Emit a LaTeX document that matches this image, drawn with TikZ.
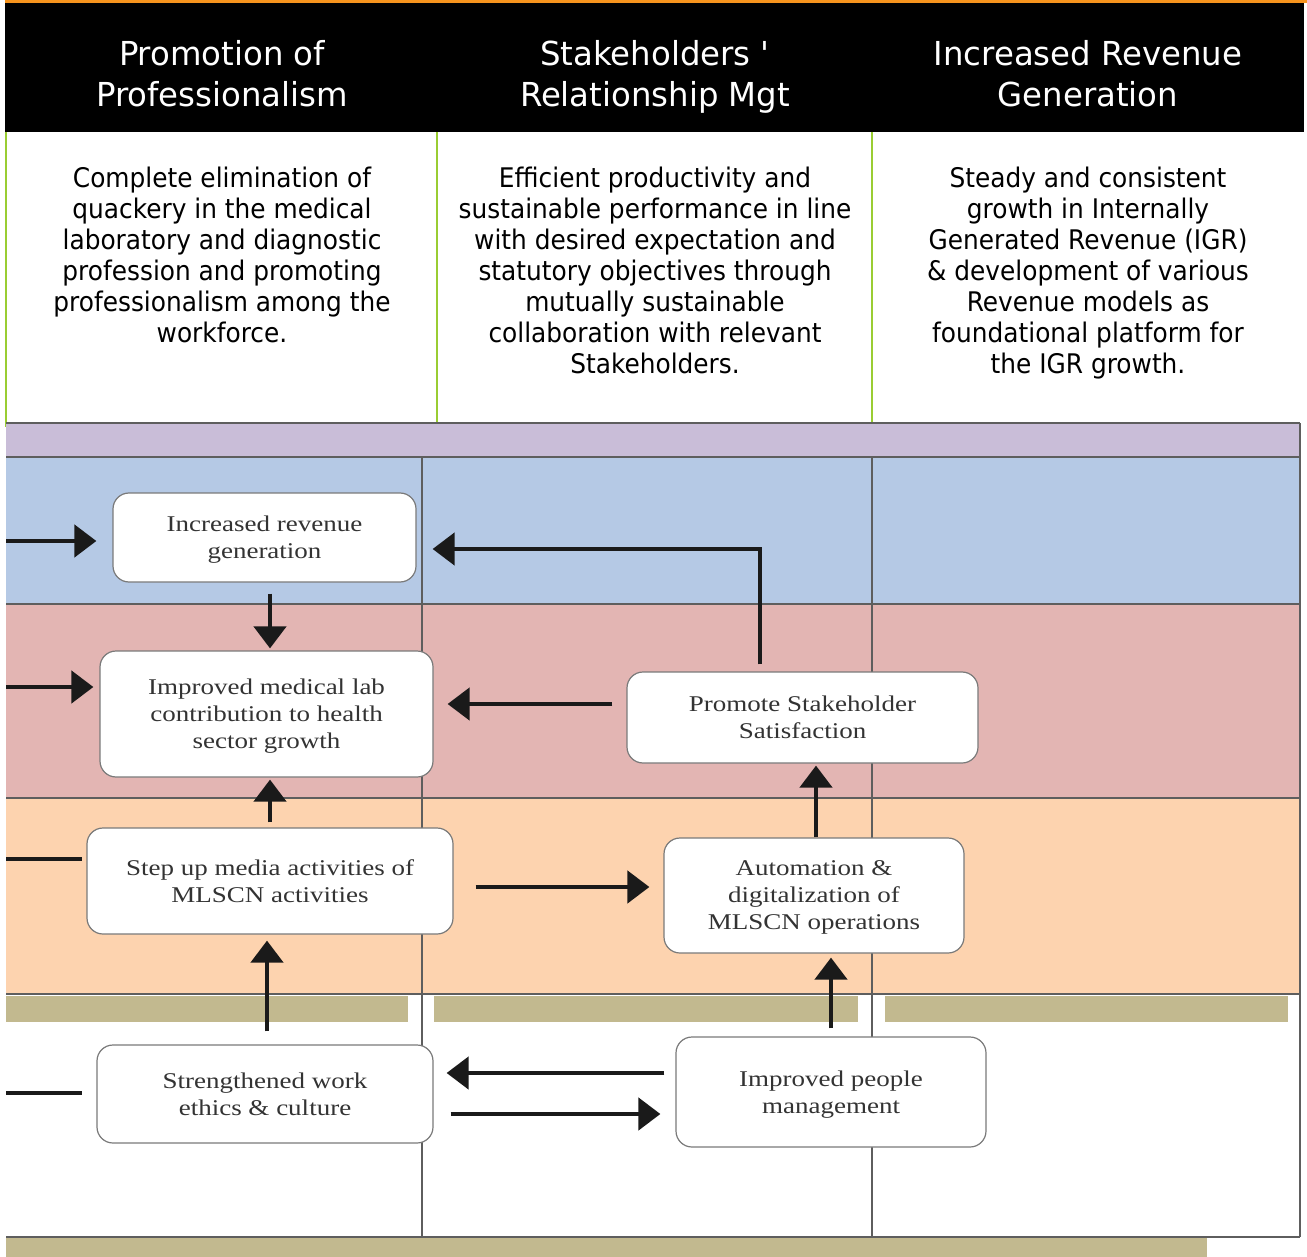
\documentclass[tikz,border=0pt]{standalone}
\usepackage{fontspec}
\setmainfont{Liberation Serif}
\newfontfamily\hdfont[FakeStretch=0.92]{DejaVu Sans}
\newfontfamily\hhfont[FakeStretch=0.98]{DejaVu Sans}
\newfontfamily\bxfont[FakeStretch=1.2]{Liberation Serif}
\usetikzlibrary{arrows.meta}
\definecolor{orangeline}{HTML}{F7941D}
\definecolor{lavband}{HTML}{C9BDD8}
\definecolor{blueband}{HTML}{B5C9E5}
\definecolor{pinkband}{HTML}{E3B5B3}
\definecolor{peachband}{HTML}{FDD3AF}
\definecolor{oliveband}{HTML}{C2B98F}
\definecolor{gridline}{HTML}{5E5E5E}
\definecolor{greenline}{HTML}{9ACD32}
\definecolor{boxline}{HTML}{7A7A7A}
\definecolor{arrowcol}{HTML}{1A1A1A}
\definecolor{boxtext}{HTML}{333333}
\tikzset{
  headtext/.style={text=white, align=center, font=\hhfont\fontsize{33}{41}\selectfont, inner sep=0pt},
  bodytext/.style={text=black, align=center, font=\hdfont\fontsize{27}{31}\selectfont, inner sep=0pt},
  goalbox/.style={draw=boxline, line width=1.2pt, fill=white, rounded corners=16pt,
    align=center, text=boxtext, font=\bxfont\fontsize{22.5}{27}\selectfont, inner sep=0pt,
    text depth=-2pt},
  arr/.style={draw=arrowcol, line width=4.5pt, -{Triangle[length=22pt,width=32pt]}},
  stub/.style={draw=arrowcol, line width=4.5pt},
  grid/.style={draw=gridline, line width=1.5pt}
}
\begin{document}
\begin{tikzpicture}[x=1pt,y=-1pt]
\useasboundingbox (0,0) rectangle (1307,1257);
\fill[white] (0,0) rectangle (1307,1257);
% header
\fill[orangeline] (5,0) rectangle (1307,3);
\fill[black] (5,3) rectangle (1304,132);
\foreach \gx in {6,437,872} \draw[greenline, line width=2pt] (\gx,132) -- (\gx,427);
\node[headtext] (h1) at (222,74) {Promotion of\\Professionalism};
\node[headtext] (h2) at (655,76.5) {Stakeholders '\\Relationship Mgt};
\node[headtext] (h3) at (1088,74) {Increased Revenue\\Generation};
\node[bodytext] (t1) at (222,254.5) {Complete elimination of\\quackery in the medical\\laboratory and diagnostic\\profession and promoting\\professionalism among the\\workforce.};
\node[bodytext] (t2) at (655,270.5) {Efficient productivity and\\sustainable performance in line\\with desired expectation and\\statutory objectives through\\mutually sustainable\\collaboration with relevant\\Stakeholders.};
\node[bodytext] (t3) at (1088,273.5) {Steady and consistent\\growth in Internally\\Generated Revenue (IGR)\\\& development of various\\Revenue models as\\foundational platform for\\the IGR growth.};
% bands
\fill[lavband] (6,423) rectangle (1300,457);
\fill[blueband] (6,457) rectangle (1300,604);
\fill[pinkband] (6,604) rectangle (1300,798);
\fill[peachband] (6,798) rectangle (1300,994);
\fill[oliveband] (6,996) rectangle (408,1022);
\fill[oliveband] (434,996) rectangle (858,1022);
\fill[oliveband] (885,996) rectangle (1288,1022);
\fill[oliveband] (6,1238) rectangle (1207,1257);
\foreach \gy in {423,457,604,798,994,1237} \draw[grid] (6,\gy) -- (1300,\gy);
\draw[grid] (1300,423) -- (1300,1237);
\draw[grid] (422,457) -- (422,1237);
\draw[grid] (872,457) -- (872,1237);
% boxes
\node[goalbox, minimum width=303pt, minimum height=89pt] (b1) at (264.5,537.5) {Increased revenue\\generation};
\node[goalbox, minimum width=333pt, minimum height=126pt] (b2) at (266.5,714) {Improved medical lab\\contribution to health\\sector growth};
\node[goalbox, minimum width=366pt, minimum height=106pt] (b3) at (270,881) {Step up media activities of\\MLSCN activities};
\node[goalbox, minimum width=351pt, minimum height=91pt] (b4) at (802.5,717.5) {Promote Stakeholder\\Satisfaction};
\node[goalbox, minimum width=300pt, minimum height=115pt] (b5) at (814,895.5) {Automation \&\\digitalization of\\MLSCN operations};
\node[goalbox, minimum width=336pt, minimum height=98pt] (b6) at (265,1094) {Strengthened work\\ethics \& culture};
\node[goalbox, minimum width=310pt, minimum height=110pt] (b7) at (831,1092) {Improved people\\management};
% free ends
\coordinate (in1) at (6,541);
\coordinate (in2) at (6,687);
\coordinate (s3) at (6,859);
\coordinate (s6) at (6,1093);
\draw[arr, shorten >=16pt] (in1) -- (in1 -| b1.west);
\draw[arr, shorten >=6pt] (in2) -- (in2 -| b2.west);
\draw[stub, shorten >=4pt] (s3) -- (s3 -| b3.west);
\draw[stub, shorten >=14pt] (s6) -- (s6 -| b6.west);
% vertical links
\draw[arr, shorten <=11pt, shorten >=2pt] ([xshift=5.5pt]b1.south) -- ([xshift=3.5pt]b2.north);
\draw[arr, shorten <=5pt, shorten >=2pt] (b3.north) -- ([xshift=3.5pt]b2.south);
\draw[arr, shorten <=13pt, shorten >=6pt] ([xshift=2pt]b6.north) -- ([xshift=-3pt]b3.south);
\draw[arr, shorten >=2pt] ([xshift=2pt]b5.north) -- ([xshift=13.5pt]b4.south);
\draw[arr, shorten <=8pt, shorten >=4pt] (b7.north) -- ([xshift=17pt]b5.south);
% horizontal links
\coordinate (h35) at ([yshift=-6pt]b3.east);
\draw[arr, shorten <=22pt, shorten >=14pt] (h35) -- (h35 -| b5.west);
\coordinate (k42) at ([yshift=13.5pt]b4.west);
\draw[arr, shorten <=14pt, shorten >=14pt] (k42) -- (k42 -| b2.east);
\coordinate (l41) at ([xshift=-42.5pt]b4.north);
\coordinate (l41e) at ([yshift=-11.5pt]b1.east);
\draw[arr, shorten <=7pt, shorten >=16pt] (l41) |- (l41e);
\coordinate (m76) at ([yshift=19pt]b7.west);
\draw[arr, shorten <=11pt, shorten >=13pt] (m76) -- (m76 -| b6.east);
\coordinate (n67) at ([yshift=-20pt]b6.east);
\draw[arr, shorten <=17pt, shorten >=15pt] (n67) -- (n67 -| b7.west);
\end{tikzpicture}
\end{document}
